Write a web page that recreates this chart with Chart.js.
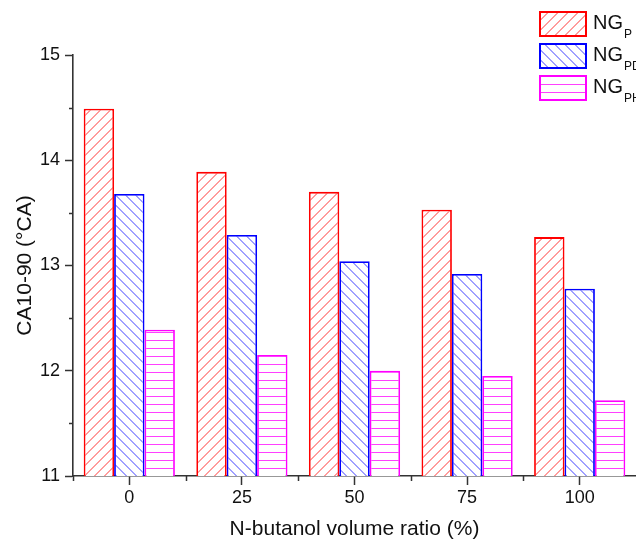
<!DOCTYPE html>
<html>
<head>
<meta charset="utf-8">
<script src="https://cdn.jsdelivr.net/npm/chart.js"></script>
<style>
  html, body { margin: 0; padding: 0; background: #fff; overflow: hidden; }
  canvas { display: block; }
</style>
</head>
<body>
<canvas id="chart" width="636" height="545"></canvas>
<script>
const ratios = ['0', '25', '50', '75', '100'];
const seriesSubs = ['P', 'PD', 'PH'];   // subscripts after "NG"
const ngP  = [14.49, 13.89, 13.70, 13.53, 13.27];
const ngPD = [13.68, 13.29, 13.04, 12.92, 12.78];
const ngPH = [12.39, 12.15, 12.00, 11.95, 11.72];
const yMin = 11, yMax = 15;

const FONT = '"Liberation Sans", Arial, sans-serif';
const AXIS = '#333';
const TEXT = '#111';

const canvas = document.getElementById('chart');
const ctx = canvas.getContext('2d');

// small repeating tiles for the hatch fills, drawn pixel by pixel
function hatch(kind, color, size) {
  const c = document.createElement('canvas');
  c.width = size; c.height = size;
  const g = c.getContext('2d');
  g.fillStyle = '#fff';
  g.fillRect(0, 0, size, size);
  g.fillStyle = color;
  for (let i = 0; i < size; i++) {
    if (kind === 'fwd') {
      g.fillRect(i, size - 1 - i, 1, 1);
      g.fillRect((i + 1) % size, size - 1 - i, 1, 1);
    } else if (kind === 'back') {
      g.fillRect(i, i, 1, 1);
      g.fillRect((i + 1) % size, i, 1, 1);
    }
  }
  if (kind === 'horiz') g.fillRect(0, Math.floor(size / 2), size, 1);
  return ctx.createPattern(c, 'repeat');
}

const colors = ['#ff0000', '#0000ff', '#ff00ff'];
const fills = [
  hatch('fwd', '#ff9c9c', 10),
  hatch('back', '#a0a0ff', 10),
  hatch('horiz', '#ff40ff', 8)
];

// minor ticks: half steps on y, category edges on x
const minorTicks = {
  id: 'minorTicks',
  afterDraw(chart) {
    const c = chart.ctx;
    const x = chart.scales.x, y = chart.scales.y;
    c.save();
    c.strokeStyle = AXIS;
    c.lineWidth = 1.5;
    c.beginPath();
    for (let v = yMin + 0.5; v < yMax; v += 1) {
      const py = Math.round(y.getPixelForValue(v)) + 0.5;
      c.moveTo(y.right, py); c.lineTo(y.right - 4, py);
    }
    const half = (x.getPixelForValue(1) - x.getPixelForValue(0)) / 2;
    for (let i = 0; i < ratios.length; i++) {
      const px = Math.round(x.getPixelForValue(i) - half) + 0.5;
      c.moveTo(px, x.top); c.lineTo(px, x.top + 5);
    }
    c.stroke();
    c.restore();
  }
};

// legend with subscripted labels, top right
const subLegend = {
  id: 'subLegend',
  afterDraw(chart) {
    const c = chart.ctx;
    c.save();
    seriesSubs.forEach((sub, i) => {
      const top = 12 + i * 32;
      c.fillStyle = fills[i];
      c.fillRect(540, top, 46, 24);
      c.strokeStyle = colors[i];
      c.lineWidth = 2;
      c.strokeRect(540, top, 46, 24);
      c.fillStyle = TEXT;
      c.textBaseline = 'alphabetic';
      c.font = '20px ' + FONT;
      c.fillText('NG', 593, top + 16.5);
      const w = c.measureText('NG').width;
      c.font = '12px ' + FONT;
      c.fillText(sub, 593 + w + 1, top + 25.5);
    });
    c.restore();
  }
};

const datasets = [ngP, ngPD, ngPH].map((data, i) => ({
  label: 'NG' + seriesSubs[i],
  data: data,
  backgroundColor: fills[i],
  borderColor: colors[i],
  borderWidth: 1.8,
  categoryPercentage: 0.81,
  barPercentage: 1.0
}));

new Chart(ctx, {
  type: 'bar',
  data: { labels: ratios, datasets: datasets },
  options: {
    responsive: false,
    animation: false,
    devicePixelRatio: 1,
    layout: { padding: { top: 55, right: 0, left: 0, bottom: 0 } },
    plugins: {
      legend: { display: false },
      tooltip: { enabled: false }
    },
    scales: {
      x: {
        grid: { offset: false, drawOnChartArea: false, tickLength: 9, tickWidth: 1.5, tickColor: AXIS },
        border: { color: AXIS, width: 1.6 },
        ticks: { font: { family: FONT, size: 18 }, color: TEXT, padding: 2, maxRotation: 0 },
        title: {
          display: true,
          text: 'N-butanol volume ratio (%)',
          font: { family: FONT, size: 21 },
          color: TEXT,
          padding: { top: 0, bottom: 3 }
        },
        afterFit: s => { s.height = 69; }
      },
      y: {
        min: yMin,
        max: yMax,
        grid: { drawOnChartArea: false, tickLength: 8, tickWidth: 1.5, tickColor: AXIS },
        border: { color: AXIS, width: 1.6 },
        ticks: { stepSize: 1, font: { family: FONT, size: 18 }, color: TEXT, padding: 5 },
        title: {
          display: true,
          text: 'CA10-90 (°CA)',
          font: { family: FONT, size: 21 },
          color: TEXT,
          padding: { top: 13, bottom: 0 }
        },
        afterFit: s => { s.width = 73; }
      }
    }
  },
  plugins: [minorTicks, subLegend]
});
</script>
</body>
</html>
